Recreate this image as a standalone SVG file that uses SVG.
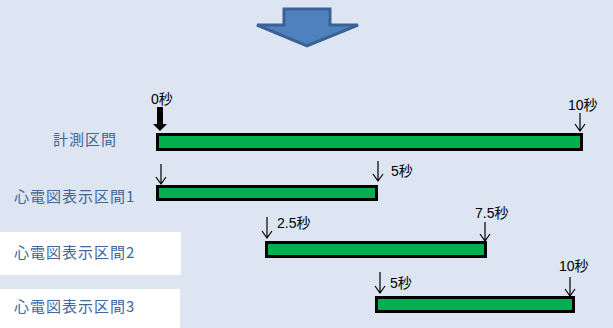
<svg xmlns="http://www.w3.org/2000/svg" width="613" height="328" viewBox="0 0 613 328">
<defs>
<style>
.bar{fill:#00B050;stroke:#000;stroke-width:3}
.lbl{font-family:"Noto Sans CJK JP","Liberation Sans",sans-serif;font-size:15px;fill:#41669A;letter-spacing:1px}
.t{font-family:"Liberation Sans","Noto Sans CJK JP",sans-serif;font-size:14px;fill:#000}
.thin{fill:none;stroke:#000;stroke-width:1.2}
</style>
</defs>
<rect width="613" height="328" fill="#DCE5F1"/>
<rect x="0" y="232" width="181" height="43" fill="#FFFFFF"/>
<rect x="0" y="289" width="180" height="39" fill="#FFFFFF"/>
<g id="big-arrow">
<polygon points="284,9 330,9 330,25 358,25 307,46 257,25 284,25" fill="#4F81BD" stroke="#3A6296" stroke-width="3" stroke-linejoin="miter"/>
</g>
<g id="labels">
<text class="lbl" x="53" y="145">計測区間</text>
<text class="lbl" x="14" y="202">心電図表示区間1</text>
<text class="lbl" x="14" y="258">心電図表示区間2</text>
<text class="lbl" x="14" y="312">心電図表示区間3</text>
</g>
<g id="bar-measure">
<rect class="bar" x="157.5" y="134.5" width="424" height="15"/>
</g>
<g id="bar-ecg1">
<rect class="bar" x="157.5" y="186.5" width="219" height="13"/>
</g>
<g id="bar-ecg2">
<rect class="bar" x="266.5" y="242.5" width="219" height="14"/>
</g>
<g id="bar-ecg3">
<rect class="bar" x="376.5" y="297.5" width="197" height="14"/>
</g>
<g id="connectors">
<polygon points="157,107 163,107 163,124 167,124 160,131 153,124 157,124" fill="#000"/>
<path class="thin" d="M580,113V131M575,124L580,131L585,124"/>
<path class="thin" d="M161,164V184M156,177L161,184L166,177"/>
<path class="thin" d="M378,161V181M373,174L378,181L383,174"/>
<path class="thin" d="M267,217V238M262,231L267,238L272,231"/>
<path class="thin" d="M485,222V241M480,234L485,241L490,234"/>
<path class="thin" d="M380,272V293M375,286L380,293L385,286"/>
<path class="thin" d="M570,277V296M565,289L570,296L575,289"/>
</g>
<g id="time-labels">
<text class="t" x="151" y="104">0秒</text>
<text class="t" x="568" y="110">10秒</text>
<text class="t" x="391" y="176">5秒</text>
<text class="t" x="277" y="228">2.5秒</text>
<text class="t" x="475" y="218">7.5秒</text>
<text class="t" x="390" y="288">5秒</text>
<text class="t" x="559" y="271">10秒</text>
</g>
</svg>
